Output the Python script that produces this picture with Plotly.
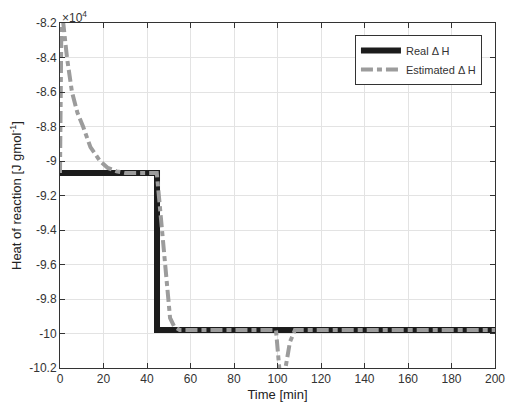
import plotly.graph_objects as go

# Values in units of 1e4 J/gmol
real_time = [0, 44.6, 44.6, 200]
real_heat = [-9.07, -9.07, -9.98, -9.98]

est_time = [0, 0.7, 1.5, 3.2, 5.5, 8, 10.6, 14, 18.4, 22, 26, 30, 44.5,
            45.5, 46.5, 48.3, 50.6, 52.5, 55, 99.3, 100.5, 101.5, 103,
            105.7, 108, 200]
est_heat = [-9.07, -8.12, -8.2, -8.4, -8.6, -8.72, -8.8, -8.92, -9.0, -9.04,
            -9.06, -9.07, -9.07, -9.2, -9.35, -9.6, -9.91, -9.96, -9.98,
            -9.98, -10.2, -10.3, -10.25, -10.05, -9.98, -9.98]

x_ticks = list(range(0, 201, 20))
y_ticks = [-10.2, -10, -9.8, -9.6, -9.4, -9.2, -9, -8.8, -8.6, -8.4, -8.2]
y_tick_text = ["-10.2", "-10", "-9.8", "-9.6", "-9.4", "-9.2", "-9",
               "-8.8", "-8.6", "-8.4", "-8.2"]

fig = go.Figure()
fig.add_trace(go.Scatter(
    x=real_time, y=real_heat, mode="lines", name="Real \u0394 H",
    line=dict(color="#1c1c1c", width=6),
))
fig.add_trace(go.Scatter(
    x=est_time, y=est_heat, mode="lines", name="Estimated \u0394 H",
    line=dict(color="#9c9c9c", width=4, dash="12px,4px,5px,4px"),
))

axis_style = dict(
    showgrid=True, gridcolor="#e3e3e3", gridwidth=1,
    showline=True, linecolor="#333333", linewidth=1, mirror="ticks",
    ticks="inside", ticklen=5, tickcolor="#333333",
    tickfont=dict(size=12, color="#333333"),
    zeroline=False, automargin=False,
)

fig.update_xaxes(
    range=[0, 200], tickvals=x_ticks,
    title=dict(text="Time [min]", font=dict(size=13, color="#222222"), standoff=4),
    **axis_style,
)
fig.update_yaxes(
    range=[-10.2, -8.2], tickvals=y_ticks, ticktext=y_tick_text,
    title=dict(text="Heat of reaction [J gmol<sup>-1</sup>]",
               font=dict(size=13, color="#222222"), standoff=4),
    **axis_style,
)

fig.add_annotation(
    text="\u00d710<sup>4</sup>", xref="paper", yref="paper", x=0.0, y=1.0,
    xanchor="left", yanchor="bottom", yshift=-4, showarrow=False,
    font=dict(size=12, color="#333333"),
)

# page body has an 8px margin, so the figure is shrunk to fit the window
fig.update_layout(
    width=515, height=406,
    margin=dict(l=52, r=28, t=15, b=46),
    paper_bgcolor="white", plot_bgcolor="white",
    font=dict(family="Liberation Sans, Arial, sans-serif", color="#333333"),
    showlegend=True,
    legend=dict(
        x=0.97, y=0.965, xanchor="right", yanchor="top",
        bgcolor="white", bordercolor="#333333", borderwidth=1,
        font=dict(size=11, color="#333333"),
        tracegroupgap=0, itemwidth=40,
    ),
)

fig.write_html("out.html")
